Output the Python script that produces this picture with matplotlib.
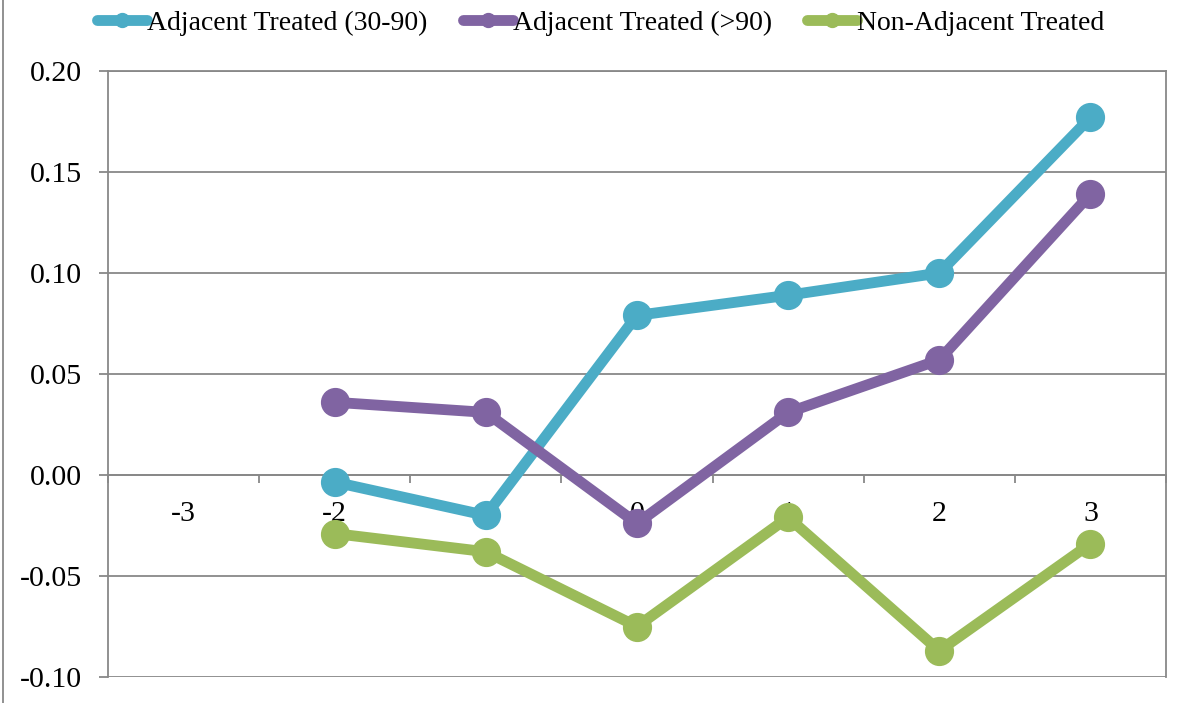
import matplotlib
matplotlib.use("Agg")
import matplotlib.pyplot as plt
from matplotlib.lines import Line2D
import numpy as np

plt.rcParams['font.family'] = ['Liberation Serif', 'DejaVu Serif']

categories = [-3, -2, -1, 0, 1, 2, 3]
series_names = ["Adjacent Treated (30-90)", "Adjacent Treated (>90)", "Non-Adjacent Treated"]
adj_30_90 = [np.nan, -0.0035, -0.020, 0.079, 0.089, 0.100, 0.177]
adj_gt_90 = [np.nan, 0.036, 0.031, -0.024, 0.031, 0.057, 0.139]
non_adj = [np.nan, -0.029, -0.038, -0.075, -0.021, -0.087, -0.034]
colors = ["#4BACC6", "#8064A2", "#9BBB59"]
yticks = [-0.10, -0.05, 0.00, 0.05, 0.10, 0.15, 0.20]

fig = plt.figure(figsize=(11.87, 7.03), dpi=100)
ax = fig.add_axes([108/1187, 1-677/703, (1166-108)/1187, (677-71)/703])

x = np.arange(len(categories))
grid_c = "#888888"
for vals, c in zip([adj_30_90, adj_gt_90, non_adj], colors):
    ax.plot(x, vals, color=c, lw=7.8, marker='o', ms=20, solid_capstyle='round',
            solid_joinstyle='round', zorder=3, clip_on=False)

ax.set_xlim(-0.5, len(categories)-0.5)
ax.set_ylim(-0.10, 0.20)
ax.set_yticks(yticks)
ax.set_yticklabels([f"{v:.2f}" for v in yticks])
ax.yaxis.grid(True, color=grid_c, lw=1.3, zorder=0)
ax.tick_params(axis='y', length=6.5, width=1.3, color=grid_c, pad=12, labelsize=21.5)

ax.spines['bottom'].set_position(('data', 0))
for s in ax.spines.values():
    s.set_color(grid_c)
    s.set_linewidth(1.3)

ax.set_xticks(x)
ax.set_xticklabels([str(c) for c in categories])
ax.set_xticks(np.arange(-0.5, len(categories)), minor=True)
ax.tick_params(axis='x', which='major', length=0, pad=19, labelsize=21.5)
ax.tick_params(axis='x', which='minor', length=6, width=1.3, color=grid_c, direction='out')

handles = [Line2D([], [], color=c, lw=7.8, marker='o', ms=10, solid_capstyle='round')
           for c in colors]
fig.legend(handles, series_names, loc='center', bbox_to_anchor=(0.506, 1-23/703), ncol=3,
           frameon=False, fontsize=20, handlelength=1.8, handletextpad=0.0,
           columnspacing=1.27, borderaxespad=0)

fig.add_artist(Line2D([3/1187, 3/1187], [0, 1], color=grid_c, lw=1.3, transform=fig.transFigure))

fig.savefig("out.png", dpi=100)
